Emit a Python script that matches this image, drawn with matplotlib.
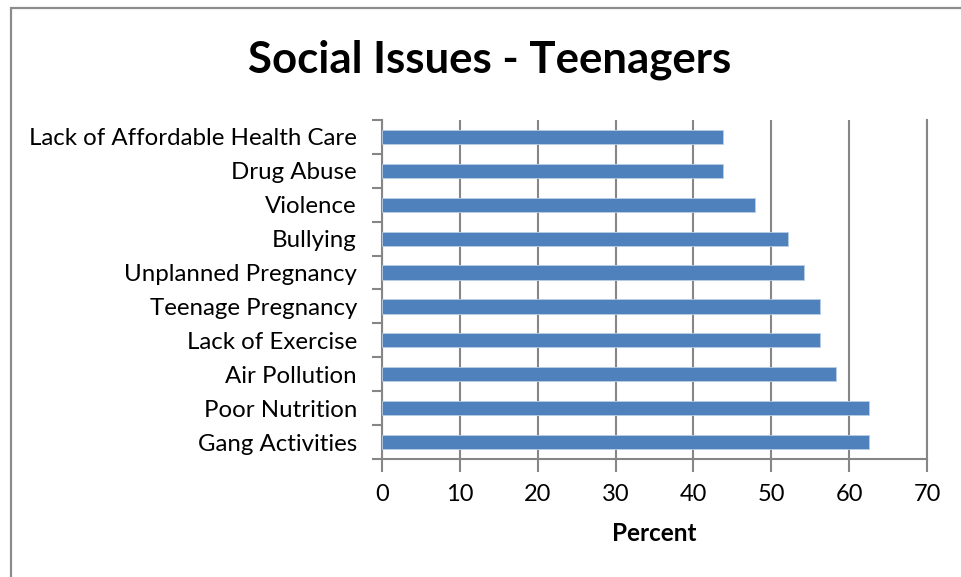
import matplotlib
matplotlib.use("Agg")
import matplotlib.pyplot as plt
from matplotlib.patches import Rectangle

categories = [
    "Lack of Affordable Health Care",
    "Drug Abuse",
    "Violence",
    "Bullying",
    "Unplanned Pregnancy",
    "Teenage Pregnancy",
    "Lack of Exercise",
    "Air Pollution",
    "Poor Nutrition",
    "Gang Activities",
]
percent = [43.8, 43.8, 47.9, 52.1, 54.2, 56.3, 56.3, 58.3, 62.5, 62.5]
x_ticks = [0, 10, 20, 30, 40, 50, 60, 70]

plt.rcParams["font.family"] = ["Lato", "DejaVu Sans"]

W, H = 961, 577
fig = plt.figure(figsize=(W / 100, H / 100), dpi=100)

# chart frame
fig.patches.append(Rectangle((10.5 / W, -0.1), 1.2, 1 - 7.5 / H + 0.1,
                             transform=fig.transFigure, fill=False,
                             edgecolor="#8c8c8c", linewidth=1.6))

ax = fig.add_axes([382 / W, 1 - 459 / H, (927 - 382) / W, (459 - 120) / H])

grid_c = "#868686"
n = len(categories)
ypos = list(range(n))
ax.barh(ypos, percent, height=0.42, color="#4f81bd", edgecolor="#b9cde5",
        linewidth=0.6, zorder=3)
ax.set_ylim(n - 0.5, -0.5)
ax.set_xlim(0, 70)

ax.set_xticks(x_ticks)
ax.set_xticklabels([str(t) for t in x_ticks], fontsize=17)
ax.set_yticks([i - 0.5 for i in range(n + 1)], minor=False)
ax.set_yticklabels([""] * (n + 1))
ax.set_yticks(ypos, minor=True)
ax.set_yticklabels(categories, minor=True, fontsize=17.3)
ax.tick_params(axis="y", which="minor", length=0, pad=18)
ax.tick_params(axis="y", which="major", length=7, width=1.5, color=grid_c)
ax.tick_params(axis="x", length=9, width=1.5, color=grid_c, pad=9)

ax.grid(axis="x", color=grid_c, linewidth=1.5, zorder=0)
for s in ["left", "bottom", "right"]:
    ax.spines[s].set_color(grid_c)
    ax.spines[s].set_linewidth(1.5)
ax.spines["top"].set_visible(False)

ax.set_xlabel("Percent", fontsize=17.5, fontweight="bold", labelpad=12)

fig.text(489.5 / W, 1 - 60 / H, "Social Issues - Teenagers", ha="center",
         va="center", fontsize=31.5, fontweight="bold")

fig.savefig("out.png", dpi=100)
